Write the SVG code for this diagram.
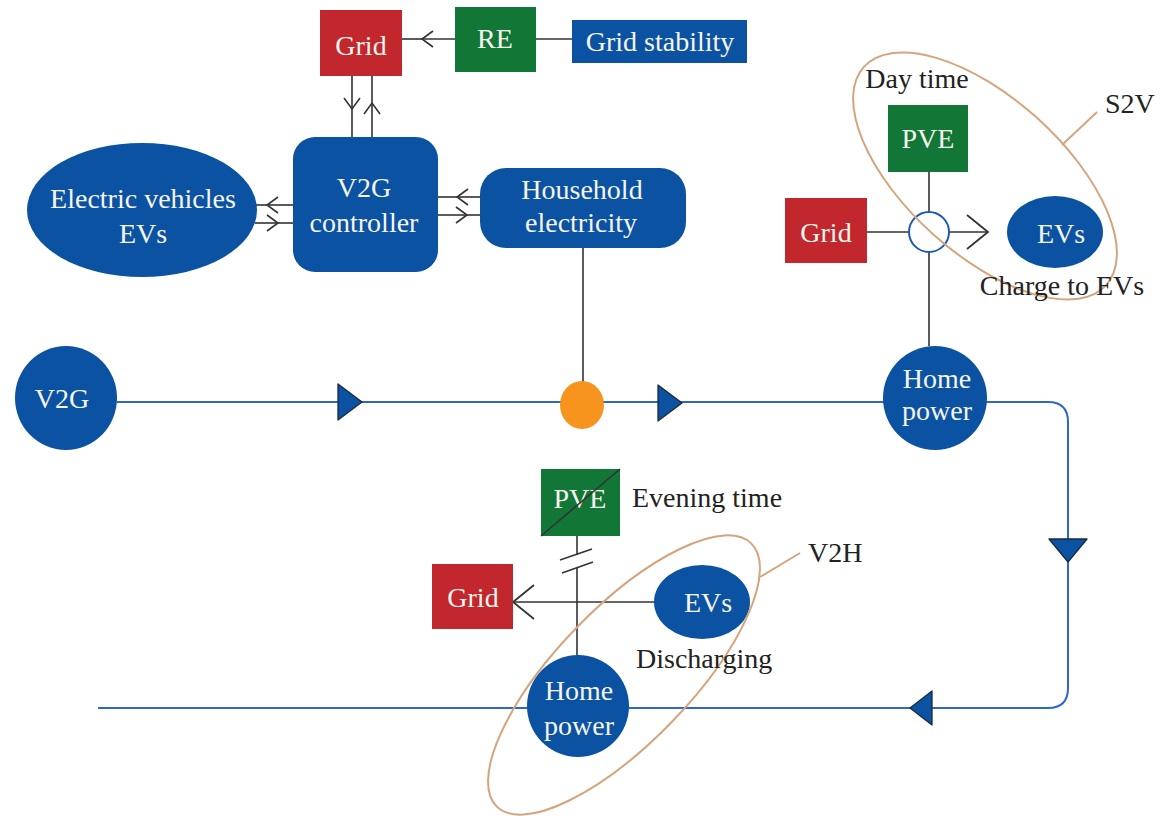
<svg xmlns="http://www.w3.org/2000/svg" width="1175" height="822" viewBox="0 0 1175 822">
<style>
  .t{font-family:"Liberation Serif","Times New Roman",serif;font-size:28px;}
  .in{fill:#f5f5ee;text-anchor:middle;}
  .lab{fill:#222;}
  .blue{fill:#0c52a2;}
  .red{fill:#c1272d;}
  .green{fill:#127636;}
  .ln{stroke:#333;stroke-width:1.6;fill:none;}
  .flow{stroke:#2e67c6;stroke-width:2;fill:none;}
  .tri{fill:#0c52a2;stroke:#1a2a3a;stroke-width:1.3;stroke-linejoin:round;}
  .ring{fill:none;stroke:#d4a57c;stroke-width:2;}
</style>
<defs>
  <marker id="arr" markerUnits="userSpaceOnUse" markerWidth="14" markerHeight="20" refX="11" refY="8" orient="auto" overflow="visible">
    <path d="M0,0 L11,8 L0,16" fill="none" stroke="#333" stroke-width="1.6"/>
  </marker>
  <marker id="arrL" markerUnits="userSpaceOnUse" markerWidth="24" markerHeight="36" refX="21" refY="17" orient="auto" overflow="visible">
    <path d="M0,0 L21,17 L0,34" fill="none" stroke="#333" stroke-width="1.8"/>
  </marker>
</defs>
<rect width="1175" height="822" fill="#ffffff"/>

<g id="connectors">
  <path class="flow" d="M117,402 H1048 Q1068,402 1068,422 V688 Q1068,708 1048,708 H98"/>
  <polygon class="tri" points="338,384 338,420 362,402"/>
  <polygon class="tri" points="658,385 658,421 682,403"/>
  <polygon class="tri" points="1049,539 1087,539 1068,562"/>
  <polygon class="tri" points="910,708 932,691 932,725"/>
  <!-- Grid <- RE -->
  <path class="ln" d="M455,39 H422" marker-end="url(#arr)"/>
  <path class="ln" d="M422,39 H402"/>
  <path class="ln" d="M536,39 H572"/>
  <!-- Grid <-> controller -->
  <path class="ln" d="M352,76 V109" marker-end="url(#arr)"/>
  <path class="ln" d="M352,109 V137"/>
  <path class="ln" d="M372,137 V103" marker-end="url(#arr)"/>
  <path class="ln" d="M372,103 V76"/>
  <!-- EV <-> controller -->
  <path class="ln" d="M293,205 H267" marker-end="url(#arr)"/>
  <path class="ln" d="M267,205 H255"/>
  <path class="ln" d="M255,223 H278" marker-end="url(#arr)"/>
  <path class="ln" d="M278,223 H293"/>
  <!-- controller <-> household -->
  <path class="ln" d="M482,197 H457" marker-end="url(#arr)"/>
  <path class="ln" d="M457,197 H438"/>
  <path class="ln" d="M438,215 H467" marker-end="url(#arr)"/>
  <path class="ln" d="M467,215 H482"/>
  <!-- household to bus -->
  <path class="ln" d="M583,248 V382"/>
  <!-- S2V -->
  <path class="ln" d="M929,172 V212"/>
  <path class="ln" d="M929,252 V346"/>
  <path class="ln" d="M867,232 H909"/>
  <path class="ln" d="M949,232 H988" marker-end="url(#arrL)"/>
  <!-- V2H -->
  <path class="ln" d="M577,536 V555"/>
  <path class="ln" d="M577,567 V655"/>
  <path class="ln" d="M560,560 L592,549"/>
  <path class="ln" d="M562,573 L593,562"/>
  <path class="ln" d="M654,602 H513" marker-end="url(#arrL)"/>
  <!-- ring label leaders -->
  <path class="ring" d="M1062,145 L1097,112"/>
  <path class="ring" d="M760,577 L800,553"/>
</g>

<g id="grid-top">
  <rect class="red" x="320" y="10" width="82" height="66"/>
  <text class="t in" x="361" y="55">Grid</text>
</g>
<g id="re">
  <rect class="green" x="455" y="7" width="81" height="65"/>
  <text class="t in" x="495" y="48">RE</text>
</g>
<g id="grid-stability">
  <rect class="blue" x="572" y="20" width="175" height="43"/>
  <text class="t in" x="660" y="51">Grid stability</text>
</g>
<g id="v2g-controller">
  <rect class="blue" x="293" y="137" width="145" height="135" rx="22"/>
  <text class="t in" x="364" y="197">V2G</text>
  <text class="t in" x="364" y="232">controller</text>
</g>
<g id="electric-vehicles">
  <ellipse class="blue" cx="142" cy="210" rx="115" ry="67"/>
  <text class="t in" x="143" y="208">Electric vehicles</text>
  <text class="t in" x="143" y="243">EVs</text>
</g>
<g id="household">
  <rect class="blue" x="480" y="168" width="206" height="80" rx="26"/>
  <text class="t in" x="582" y="199">Household</text>
  <text class="t in" x="581" y="232">electricity</text>
</g>
<g id="v2g">
  <ellipse class="blue" cx="66" cy="398" rx="51" ry="52"/>
  <text class="t in" x="62" y="408">V2G</text>
</g>
<g id="junction">
  <ellipse cx="582" cy="405" rx="22" ry="24" fill="#f7941d"/>
</g>
<g id="home-power-top">
  <circle class="blue" cx="935" cy="398" r="52"/>
  <text class="t in" x="937" y="388">Home</text>
  <text class="t in" x="937" y="420">power</text>
</g>
<g id="pve-top">
  <rect class="green" x="888" y="105" width="80" height="67"/>
  <text class="t in" x="928" y="148">PVE</text>
</g>
<g id="grid-right">
  <rect class="red" x="785" y="198" width="82" height="65"/>
  <text class="t in" x="826" y="242">Grid</text>
</g>
<g id="node-hub">
  <circle cx="929" cy="232" r="20" fill="#ffffff" stroke="#1d5ab0" stroke-width="2"/>
</g>
<g id="evs-top">
  <ellipse class="blue" cx="1055" cy="232" rx="48" ry="36"/>
  <text class="t in" x="1061" y="243">EVs</text>
</g>
<g id="pve-bottom">
  <rect class="green" x="541" y="469" width="79" height="67"/>
  <text class="t in" x="580" y="508">PVE</text>
  <line class="ln" x1="541" y1="536" x2="620" y2="469"/>
</g>
<g id="grid-bottom">
  <rect class="red" x="432" y="564" width="81" height="65"/>
  <text class="t in" x="473" y="607">Grid</text>
</g>
<g id="evs-bottom">
  <ellipse class="blue" cx="702" cy="602" rx="48" ry="37"/>
  <text class="t in" x="708" y="612">EVs</text>
</g>
<g id="home-power-bottom">
  <circle class="blue" cx="578" cy="706" r="51"/>
  <text class="t in" x="579" y="700">Home</text>
  <text class="t in" x="579" y="735">power</text>
</g>

<g id="s2v">
  <ellipse class="ring" cx="0" cy="0" rx="163" ry="78" transform="translate(985,176) rotate(42)"/>
  <text class="t lab" x="917" y="88" text-anchor="middle">Day time</text>
  <text class="t lab" x="1105" y="113">S2V</text>
  <text class="t lab" x="1062" y="295" text-anchor="middle">Charge to EVs</text>
</g>
<g id="v2h">
  <ellipse class="ring" cx="0" cy="0" rx="183" ry="67" transform="translate(624,675) rotate(-46)"/>
  <text class="t lab" x="632" y="507">Evening time</text>
  <text class="t lab" x="636" y="668">Discharging</text>
  <text class="t lab" x="808" y="562">V2H</text>
</g>
</svg>
